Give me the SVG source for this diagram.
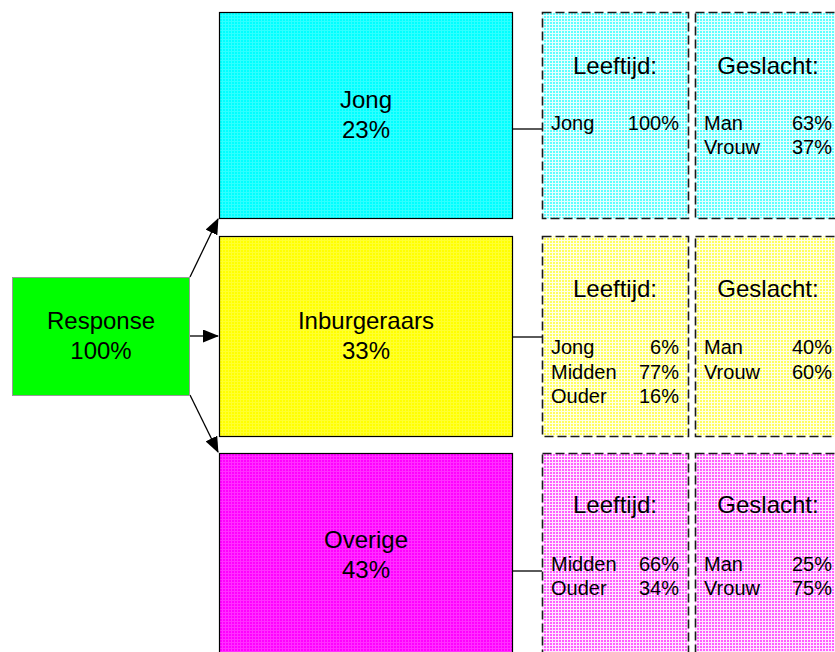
<svg xmlns="http://www.w3.org/2000/svg" width="835" height="652" viewBox="0 0 835 652">
<style>
text{font-family:"Liberation Sans",Arial,sans-serif;fill:#000}
.big{font-size:24px;text-anchor:middle}
.hd{font-size:24px;text-anchor:middle}
.row{font-size:20px}
.r{text-anchor:end}
.main{stroke:#000;stroke-width:1.2}
.dash{stroke:#1a1a1a;stroke-width:1.6;stroke-dasharray:9,4}
.conn{stroke:#000;stroke-width:1.3;fill:none}
</style>
<defs>
<marker id="ah" markerWidth="16" markerHeight="13" refX="15" refY="6.5" orient="auto" markerUnits="userSpaceOnUse">
<path d="M0,0 L16,6.5 L0,13 Z" fill="#000"/>
</marker>
<pattern id="pC" width="3" height="3" patternUnits="userSpaceOnUse"><rect width="3" height="3" fill="#00ffff"/><path d="M0,0.5H3M0.5,0V3" stroke="#30ffff" stroke-width="1"/></pattern>
<pattern id="pY" width="3" height="3" patternUnits="userSpaceOnUse"><rect width="3" height="3" fill="#ffff00"/><path d="M0,0.5H3M0.5,0V3" stroke="#ffff30" stroke-width="1"/></pattern>
<pattern id="pM" width="3" height="3" patternUnits="userSpaceOnUse"><rect width="3" height="3" fill="#ff00ff"/><path d="M0,0.5H3M0.5,0V3" stroke="#ff30ff" stroke-width="1"/></pattern>
<pattern id="lC" width="3" height="3" patternUnits="userSpaceOnUse"><rect width="3" height="3" fill="#60ffff"/><path d="M0,0.5H3M0.5,0V3" stroke="#e8ffff" stroke-width="1"/></pattern>
<pattern id="lY" width="3" height="3" patternUnits="userSpaceOnUse"><rect width="3" height="3" fill="#ffff60"/><path d="M0,0.5H3M0.5,0V3" stroke="#ffffe8" stroke-width="1"/></pattern>
<pattern id="lM" width="3" height="3" patternUnits="userSpaceOnUse"><rect width="3" height="3" fill="#ff60ff"/><path d="M0,0.5H3M0.5,0V3" stroke="#ffe8ff" stroke-width="1"/></pattern>
</defs>
<rect width="835" height="652" fill="#fff"/>

<g id="connectors">
<line class="conn" x1="190" y1="277" x2="218" y2="219" marker-end="url(#ah)"/>
<line class="conn" x1="190" y1="336" x2="218" y2="336" marker-end="url(#ah)"/>
<line class="conn" x1="190" y1="395" x2="218" y2="452" marker-end="url(#ah)"/>
<line class="conn" x1="512" y1="129" x2="542" y2="129"/>
<line class="conn" x1="512" y1="337" x2="542" y2="337"/>
<line class="conn" x1="512" y1="571" x2="542" y2="571"/>
</g>

<g id="response">
<rect x="12.5" y="277.5" width="177" height="118" fill="#00ff00" stroke="#999" stroke-width="1"/>
<text class="big" x="101" y="329">Response</text>
<text class="big" x="101" y="359">100%</text>
</g>

<g id="jong">
<rect class="main" x="219.5" y="12.5" width="293" height="206" fill="url(#pC)"/>
<text class="big" x="366" y="108">Jong</text>
<text class="big" x="366" y="138">23%</text>
</g>
<g id="inburgeraars">
<rect class="main" x="219.5" y="236.5" width="293" height="200" fill="url(#pY)"/>
<text class="big" x="366" y="329">Inburgeraars</text>
<text class="big" x="366" y="359">33%</text>
</g>
<g id="overige">
<rect class="main" x="219.5" y="453.5" width="293" height="210" fill="url(#pM)"/>
<text class="big" x="366" y="548">Overige</text>
<text class="big" x="366" y="578">43%</text>
</g>

<g id="jong-leeftijd">
<rect class="dash" x="542.5" y="12.5" width="146" height="206" fill="url(#lC)"/>
<text class="hd" x="615" y="74">Leeftijd:</text>
<text class="row" x="551" y="130">Jong</text><text class="row r" x="679" y="130">100%</text>
</g>
<g id="jong-geslacht">
<rect class="dash" x="695.5" y="12.5" width="150" height="206" fill="url(#lC)"/>
<text class="hd" x="768" y="74">Geslacht:</text>
<text class="row" x="704" y="130">Man</text><text class="row r" x="832" y="130">63%</text>
<text class="row" x="704" y="154">Vrouw</text><text class="row r" x="832" y="154">37%</text>
</g>

<g id="inb-leeftijd">
<rect class="dash" x="542.5" y="236.5" width="146" height="200" fill="url(#lY)"/>
<text class="hd" x="615" y="297">Leeftijd:</text>
<text class="row" x="551" y="354">Jong</text><text class="row r" x="679" y="354">6%</text>
<text class="row" x="551" y="379">Midden</text><text class="row r" x="679" y="379">77%</text>
<text class="row" x="551" y="403">Ouder</text><text class="row r" x="679" y="403">16%</text>
</g>
<g id="inb-geslacht">
<rect class="dash" x="695.5" y="236.5" width="150" height="200" fill="url(#lY)"/>
<text class="hd" x="768" y="297">Geslacht:</text>
<text class="row" x="704" y="354">Man</text><text class="row r" x="832" y="354">40%</text>
<text class="row" x="704" y="379">Vrouw</text><text class="row r" x="832" y="379">60%</text>
</g>

<g id="ov-leeftijd">
<rect class="dash" x="542.5" y="453.5" width="146" height="210" fill="url(#lM)"/>
<text class="hd" x="615" y="513">Leeftijd:</text>
<text class="row" x="551" y="571">Midden</text><text class="row r" x="679" y="571">66%</text>
<text class="row" x="551" y="595">Ouder</text><text class="row r" x="679" y="595">34%</text>
</g>
<g id="ov-geslacht">
<rect class="dash" x="695.5" y="453.5" width="150" height="210" fill="url(#lM)"/>
<text class="hd" x="768" y="513">Geslacht:</text>
<text class="row" x="704" y="571">Man</text><text class="row r" x="832" y="571">25%</text>
<text class="row" x="704" y="595">Vrouw</text><text class="row r" x="832" y="595">75%</text>
</g>
</svg>
